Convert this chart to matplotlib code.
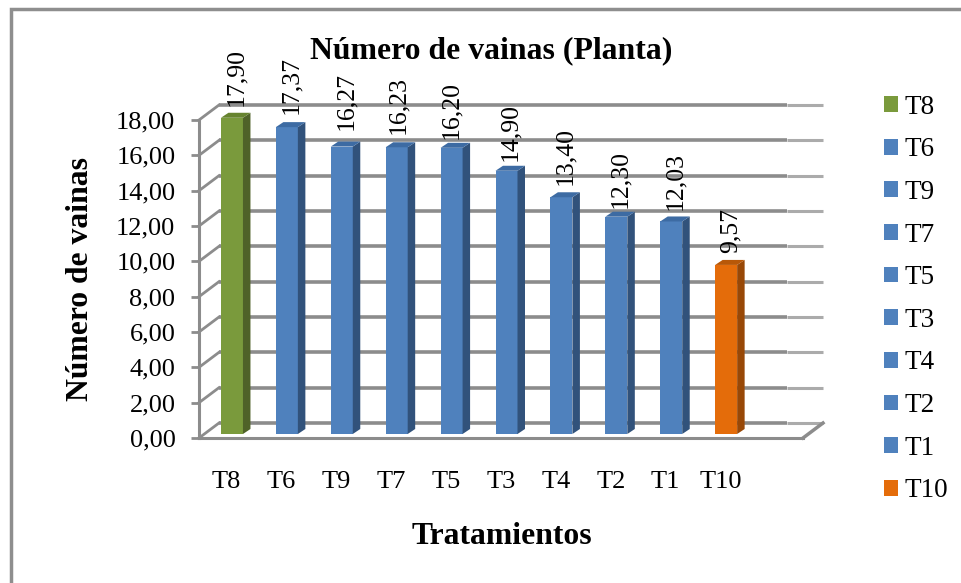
import matplotlib
matplotlib.use("Agg")
import matplotlib.pyplot as plt
from matplotlib.patches import Polygon, Patch, Rectangle

plt.rcParams['font.family'] = ['Liberation Serif', 'DejaVu Serif']

# ---------- Data ----------
treatments = ['T8', 'T6', 'T9', 'T7', 'T5', 'T3', 'T4', 'T2', 'T1', 'T10']
values = [17.90, 17.37, 16.27, 16.23, 16.20, 14.90, 13.40, 12.30, 12.03, 9.57]
y_ticks = [0, 2, 4, 6, 8, 10, 12, 14, 16, 18]

# value label nudges relative to each bar, in pixels
label_dx = [4, 4, 4, 1, 0, 4, 4, 4, 4, 4]
label_gap = [10, 11, 15, 11, 7, 8, 10, 7, 9, 10]

GREEN = ('#7a9a3c', '#4f6228', '#66832f')
BLUE = ('#4f81bd', '#31527b', '#3d6ba3')
ORANGE = ('#e46c0a', '#984807', '#b85808')
bar_colors = [GREEN] + [BLUE] * 8 + [ORANGE]

W, H = 961, 583
GRID = '#8c8c8c'
GRID_LIGHT = '#ababab'

fig = plt.figure(figsize=(W / 100, H / 100), dpi=100)
ax = fig.add_axes([199 / W, 1 - 438 / H, 604 / W, 318 / H])
ax.set_xlim(-0.5, 10.5)
ax.set_ylim(0, 18)
ax.patch.set_alpha(0)

# pixels to data units
px_x = 11 / 604
px_y = 18 / 318

# ---------- 3D box ----------
wall_dx, wall_dy = 20 * px_x, 15 * px_y
x0, x1 = -0.5, 10.5
for v in y_ticks:
    ax.plot([x0, x0 + wall_dx], [v, v + wall_dy], color=GRID, lw=2, clip_on=False, zorder=1)
    ax.plot([x0 + wall_dx, x1 - 16 * px_x], [v + wall_dy, v + wall_dy], color=GRID, lw=2.6,
            clip_on=False, zorder=1, solid_capstyle='butt')
    ax.plot([x1 - 16 * px_x, x1 + wall_dx], [v + wall_dy, v + wall_dy], color=GRID_LIGHT, lw=2.2,
            clip_on=False, zorder=1, solid_capstyle='butt')
ax.plot([x1, x1 + wall_dx], [0, wall_dy], color=GRID, lw=2.5, clip_on=False, zorder=1)

# ---------- Bars ----------
shift = 5.5 * px_x
bar_w = 22 * px_x
floor = 4 * px_y
bar_dx, bar_dy = 7.5 * px_x, 5 * px_y
for i, (val, cols) in enumerate(zip(values, bar_colors)):
    ax.bar(i + shift, val, width=bar_w, bottom=floor, color=cols[0], zorder=3, clip_on=False)
    left = i + shift - bar_w / 2
    right = i + shift + bar_w / 2
    top = floor + val
    ax.add_patch(Polygon([(right, floor), (right + bar_dx, floor + bar_dy),
                          (right + bar_dx, top + bar_dy), (right, top)],
                         closed=True, fc=cols[1], ec='none', zorder=3, clip_on=False))
    ax.add_patch(Polygon([(left, top), (left + bar_dx, top + bar_dy),
                          (right + bar_dx, top + bar_dy), (right, top)],
                         closed=True, fc=cols[2], ec='none', zorder=3, clip_on=False))
    ax.annotate(f'{val:.2f}'.replace('.', ','), xy=(i + shift, top),
                xytext=(label_dx[i] * 0.72, (label_gap[i] + 2) * 0.72),
                textcoords='offset points', rotation=90, ha='center', va='bottom',
                fontsize=18.5, color='black', zorder=4, annotation_clip=False)

# ---------- Axes ----------
for s in ['top', 'right']:
    ax.spines[s].set_visible(False)
for s in ['left', 'bottom']:
    ax.spines[s].set_color(GRID)
    ax.spines[s].set_linewidth(2.2)
ax.set_yticks(y_ticks)
ax.set_yticklabels([f'{v:.2f}'.replace('.', ',') for v in y_ticks], fontsize=19)
ax.set_xticks(range(len(treatments)))
ax.set_xticklabels(treatments, fontsize=19)
ax.tick_params(axis='y', length=6, width=2, color=GRID, pad=11)
ax.tick_params(axis='x', length=0, pad=24)

fig.text(491 / W, 1 - 51 / H, 'Número de vainas (Planta)', ha='center', va='center',
         fontsize=22.9, fontweight='bold')
fig.text(502 / W, 1 - 537 / H, 'Tratamientos', ha='center', va='center',
         fontsize=22.8, fontweight='bold')
fig.text(81 / W, 1 - 279 / H, 'Número de vainas', ha='center', va='center', rotation=90,
         fontsize=22.8, fontweight='bold')

# ---------- Legend ----------
handles = [Patch(fc=c[0], ec='none', label=t) for t, c in zip(treatments, bar_colors)]
fig.legend(handles=handles, loc='center left', bbox_to_anchor=(884 / W, 1 - 299 / H),
           frameon=False, fontsize=19.5, labelspacing=0.65, handlelength=0.52, handleheight=0.52,
           handletextpad=0.22, borderpad=0, borderaxespad=0)

# ---------- Outer frame ----------
fig.add_artist(Rectangle((10.5 / W, -0.1), 1.2, 1 - 9 / H + 0.1, transform=fig.transFigure,
                         fc='none', ec='#8e8e8e', lw=2.5))

fig.savefig('out.png', dpi=100)
